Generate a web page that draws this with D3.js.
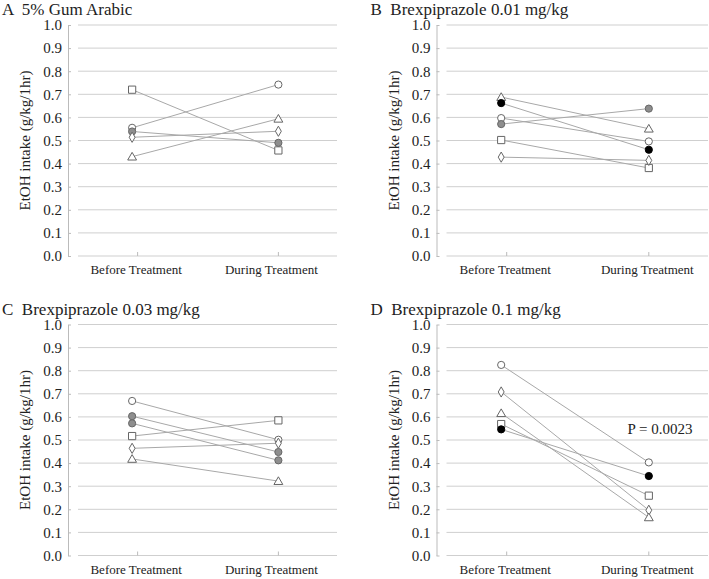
<!DOCTYPE html>
<html>
<head>
<meta charset="utf-8">
<script src="https://cdn.jsdelivr.net/npm/d3@7"></script>
<style>
body { margin:0; background:#fff; }
svg text { font-family: "Times New Roman", "Liberation Serif", Tinos, Times, serif !important; fill:#222; }
</style>
</head>
<body>
<div id="chart"></div>
<script>
// data
var categories = ["Before Treatment", "During Treatment"];
var yTicks = [0, 0.1, 0.2, 0.3, 0.4, 0.5, 0.6, 0.7, 0.8, 0.9, 1.0];
var panelLetters = ["A", "B", "C", "D"];
var panelTitles = ["5% Gum Arabic", "Brexpiprazole 0.01 mg/kg", "Brexpiprazole 0.03 mg/kg", "Brexpiprazole 0.1 mg/kg"];

var shapesA = ["square", "open", "gray", "diamond", "triangle"];
var beforeA = [0.72, 0.555, 0.539, 0.514, 0.43];
var duringA = [0.457, 0.742, 0.49, 0.54, 0.594];

var shapesB = ["triangle", "black", "open", "gray", "square", "diamond"];
var beforeB = [0.688, 0.662, 0.597, 0.571, 0.502, 0.428];
var duringB = [0.551, 0.46, 0.496, 0.638, 0.381, 0.414];

var shapesC = ["open", "gray", "gray", "square", "diamond", "triangle"];
var beforeC = [0.669, 0.603, 0.572, 0.517, 0.464, 0.418];
var duringC = [0.501, 0.448, 0.412, 0.585, 0.486, 0.322];

var shapesD = ["open", "diamond", "triangle", "square", "black"];
var beforeD = [0.825, 0.708, 0.616, 0.569, 0.546];
var duringD = [0.403, 0.196, 0.165, 0.259, 0.344];

var pText = "P = 0.0023";

var W = 709, H = 579;
var svg = d3.select("#chart").append("svg")
	.attr("width", W)
	.attr("height", H);

var panels = [
	{shapes: shapesA, before: beforeA, during: duringA, dx: 0, dy: 0},
	{shapes: shapesB, before: beforeB, during: duringB, dx: 368.5, dy: 0},
	{shapes: shapesC, before: beforeC, during: duringC, dx: 0, dy: 299.5},
	{shapes: shapesD, before: beforeD, during: duringD, dx: 368.5, dy: 299.5}
];

var gridCol = "#cfcfcf", lineCol = "#a8a8a8", markStroke = "#666";

panels.forEach(function(p, i) {
	var g = svg.append("g").attr("transform", "translate(" + p.dx + "," + p.dy + ")");
	var axisX = 68, left = 78, right = i % 2 ? 339.5 : 337;

	var y = d3.scaleLinear().domain([0, 1]).range([256, 25]);
	var x = d3.scalePoint().domain(categories).range([left, right]).padding(0.42);

	// title
	g.append("text")
		.attr("x", 2).attr("y", 15)
		.style("font-size", "17px")
		.style("white-space", "pre")
		.text(panelLetters[i] + "  " + panelTitles[i]);

	// grid lines
	g.selectAll(".grid")
		.data(yTicks)
		.enter().append("line")
		.attr("x1", left).attr("x2", right)
		.attr("y1", function(d) { return y(d); })
		.attr("y2", function(d) { return y(d); })
		.style("stroke", gridCol)
		.style("stroke-width", 1);

	// y axis
	var yAxis = d3.axisLeft(y).tickValues(yTicks).tickFormat(d3.format(".1f")).tickSizeInner(-3).tickSizeOuter(0).tickPadding(6);
	var ya = g.append("g").attr("transform", "translate(" + axisX + ",0)").call(yAxis);
	ya.select(".domain").style("stroke", "#bbb");
	ya.selectAll(".tick line").style("stroke", "#bbb");
	ya.selectAll(".tick text").style("font-size", "15px");

	// x axis (ticks only, inside)
	var xAxis = d3.axisBottom(x).tickSizeInner(-4).tickSizeOuter(0).tickPadding(9);
	var xa = g.append("g").attr("transform", "translate(0," + y(0) + ")").call(xAxis);
	xa.select(".domain").remove();
	xa.selectAll(".tick line").style("stroke", "#bbb");
	xa.selectAll(".tick text")
		.style("font-size", "13px")
		.attr("dx", function(d, k) { return (i % 2 == 0 && k == 1) ? -7 : -1.5; });

	// y label
	g.append("text")
		.attr("transform", "translate(30," + ((y(0) + y(1)) / 2) + ") rotate(-90)")
		.attr("text-anchor", "middle")
		.style("font-size", "15px")
		.text("EtOH intake (g/kg/1hr)");

	var xb = x(categories[0]) - 5, xd = x(categories[1]) + 0.5;

	// subject lines
	p.before.forEach(function(v, k) {
		g.append("line")
			.attr("x1", xb).attr("y1", y(v))
			.attr("x2", xd).attr("y2", y(p.during[k]))
			.style("stroke", lineCol)
			.style("stroke-width", 1);
	});

	// markers
	p.before.forEach(function(v, k) {
		drawMark(g, p.shapes[k], xb, y(v));
		drawMark(g, p.shapes[k], xd, y(p.during[k]));
	});

	if (i == 3) {
		g.append("text")
			.attr("x", 259).attr("y", 134)
			.style("font-size", "15px")
			.text(pText);
	}
});

function drawMark(g, shape, cx, cy)
{
	if (shape == "open" || shape == "gray" || shape == "black") {
		g.append("circle")
			.attr("cx", cx).attr("cy", cy).attr("r", 3.6)
			.style("fill", shape == "open" ? "#fff" : (shape == "gray" ? "#8e8e8e" : "#000"))
			.style("stroke", shape == "black" ? "#000" : markStroke)
			.style("stroke-width", 1);
		return;
	}
	var type = shape == "square" ? d3.symbolSquare : (shape == "diamond" ? d3.symbolDiamond : d3.symbolTriangle);
	var size = shape == "square" ? 52 : (shape == "diamond" ? 30 : 34);
	g.append("path")
		.attr("d", d3.symbol().type(type).size(size)())
		.attr("transform", "translate(" + cx + "," + (shape == "triangle" ? cy + 0.8 : cy) + ")")
		.style("fill", "#fff")
		.style("stroke", markStroke)
		.style("stroke-width", 1);
}
</script>
</body>
</html>
